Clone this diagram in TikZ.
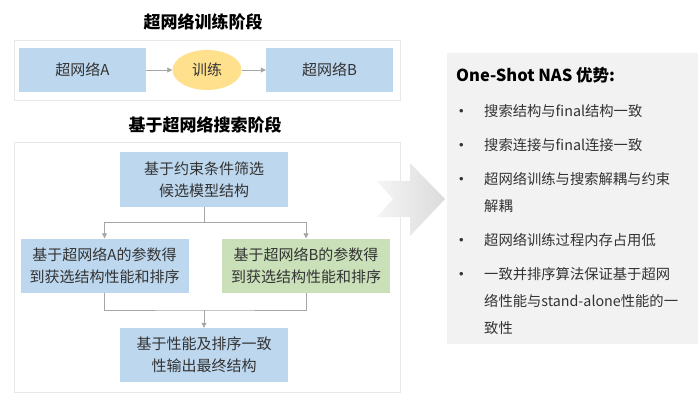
\documentclass[tikz,border=0pt]{standalone}
\usepackage{fontspec}
\setmainfont{Noto Sans CJK SC}
\newfontfamily\bulletfont{Liberation Sans}
\usepackage{xcolor}
\usetikzlibrary{arrows.meta,shapes.geometric}
\usetikzlibrary{positioning}

\definecolor{netblue}{HTML}{BDD7EE}
\definecolor{netgreen}{HTML}{C9E0B9}
\definecolor{trainyellow}{HTML}{FFE08C}
\definecolor{panelgray}{HTML}{F2F2F2}
\definecolor{inkgray}{HTML}{333333}

\tikzset{
  netbox/.style={fill=netblue,minimum width=127pt,minimum height=44pt,inner sep=0pt,text=inkgray,font=\fontsize{15}{22}\selectfont},
  stagebox/.style={fill=netblue,minimum width=168pt,minimum height=54pt,inner sep=0pt,align=center,text=inkgray,font=\fontsize{15}{22}\selectfont},
  stagetitle/.style={font=\bfseries\fontsize{17}{20}\selectfont,text=black},
  frame/.style={draw=gray!18,fill=white,line width=0.8pt},
  link/.style={draw=gray!70,line width=0.8pt},
  arr/.style={link,-{Triangle[length=5pt,width=5pt]}},
  bullet/.style={anchor=west,inner sep=0pt,text=inkgray,font=\bulletfont\fontsize{13}{27}\selectfont},
  itemtext/.style={anchor=north west,inner sep=0pt,align=left,text=inkgray,font=\fontsize{14.3}{27}\selectfont}
}

\begin{document}
\begin{tikzpicture}[x=1pt,y=-1pt]
\useasboundingbox (0,0) rectangle (700,403);

% training stage
\node[stagetitle] (trainTitle) at (203,22) {超网络训练阶段};
\draw[frame] (14,40) rectangle (400,100);
\node[netbox] (netA) at (82.5,70) {超网络A};
\node[ellipse,fill=trainyellow,minimum width=69pt,minimum height=40pt,inner sep=0pt,text=inkgray,font=\fontsize{15}{22}\selectfont] (train) at (207,70) {训练};
\node[netbox] (netB) at (329.5,70) {超网络B};
\draw[arr] (netA) -- (train);
\draw[arr] (train) -- (netB);

% search stage
\node[stagetitle] (searchTitle) at (205,125) {基于超网络搜索阶段};
\draw[frame] (14,142) rectangle (400,392);
\node[stagebox] (select) at (204,179.5) {基于约束条件筛选\\候选模型结构};
\node[stagebox] (rankA) at (104.5,265.5) {基于超网络A的参数得\\到获选结构性能和排序};
\node[stagebox,fill=netgreen] (rankB) at (306,265.5) {基于超网络B的参数得\\到获选结构性能和排序};
\node[stagebox] (final) at (204,355) {基于性能及排序一致\\性输出最终结构};

\coordinate (split) at (204,222);
\draw[link] (select) -- (split);
\draw[arr] (split) -| (rankA);
\draw[arr] (split) -| (rankB);
\coordinate (merge) at (204,310);
\draw[link] (rankA) |- (merge) -| (rankB);
\draw[arr] (merge) -- (final);

% big arrow
\path[left color=gray!8,right color=gray!28] (377,181) -- (410,181) -- (410,163) -- (445,199) -- (410,236) -- (410,217) -- (377,217) -- (393,199) -- cycle;

% advantages
\node[fill=panelgray,minimum width=251pt,minimum height=291pt,inner sep=0pt] (panel) at (572.5,198.5) {};
\node[anchor=west,inner sep=0pt,font=\bfseries\fontsize{16.5}{20}\selectfont,text=black] (advTitle) at (456,75) {One-Shot NAS 优势:};
\node[bullet] (b1) at (459,112) {•};
\node[bullet] (b2) at (459,146) {•};
\node[bullet] (b3) at (459,180) {•};
\node[bullet] (b4) at (459,241) {•};
\node[bullet] (b5) at (459,275) {•};
\node[itemtext] (i1) at (484,104) {搜索结构与final结构一致};
\node[itemtext] (i2) at (484,138) {搜索连接与final连接一致};
\node[itemtext] (i3) at (484,172) {超网络训练与搜索解耦与约束\\解耦};
\node[itemtext] (i4) at (484,233) {超网络训练过程内存占用低};
\node[itemtext] (i5) at (484,267) {一致并排序算法保证基于超网\\络性能与stand-alone性能的一\\致性};
\end{tikzpicture}
\end{document}
